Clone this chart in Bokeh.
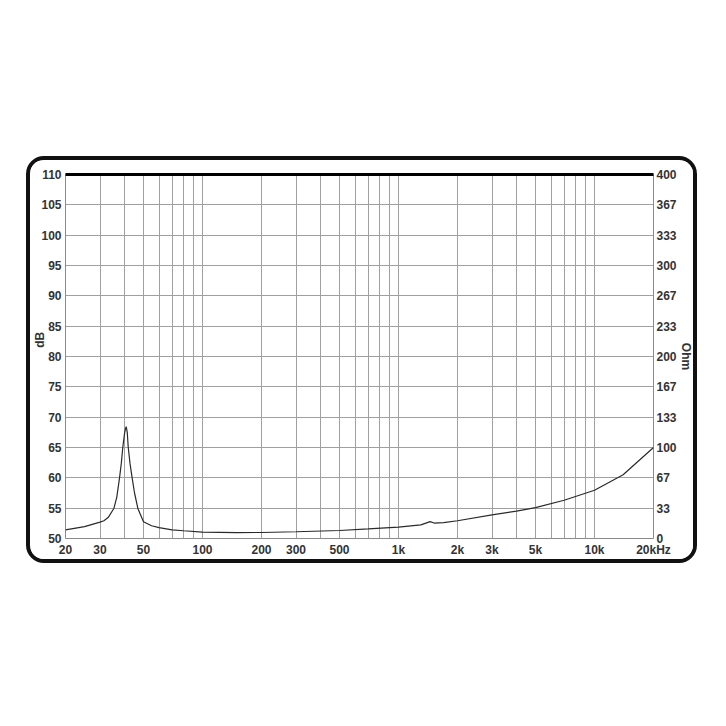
from bokeh.plotting import figure
from bokeh.models import Range1d, LinearAxis, LogAxis, FixedTicker
from bokeh.embed import file_html
from bokeh.resources import INLINE

# ---- data ----
freq_hz = [20, 25, 30, 31.4, 33, 35.3, 36.5, 37.7, 38.5, 39.2, 40.0, 40.4, 40.8,
           41.3, 41.8, 42.7, 43.8, 45, 46.8, 50, 55, 60, 70, 80, 100, 150, 200,
           300, 500, 700, 1000, 1300, 1450, 1520, 1700, 2000, 3000, 4000, 5000,
           7000, 10000, 14000, 20000]
impedance_ohm = [9.5, 13, 18, 19.5, 23, 33, 45, 66, 82, 100, 115, 120, 123,
                 117, 100, 82, 66, 50, 33, 18.5, 14, 12, 9.5, 8.5, 7, 6.5, 6.6,
                 7.4, 8.8, 10.5, 12.5, 15, 18.5, 17.0, 17.5, 19.5, 26, 30, 34,
                 42, 53, 70, 100]

db_ticks = [50, 55, 60, 65, 70, 75, 80, 85, 90, 95, 100, 105, 110]
ohm_labels = ["0", "33", "67", "100", "133", "167", "200", "233", "267",
              "300", "333", "367", "400"]
freq_label_values = [20, 30, 50, 100, 200, 300, 500, 1000, 2000, 3000, 5000,
                     10000, 20000]
freq_labels = ["20", "30", "50", "100", "200", "300", "500", "1k", "2k", "3k",
               "5k", "10k", "20kHz"]
grid_freqs = [20, 30, 40, 50, 60, 70, 80, 90, 100, 200, 300, 400, 500, 600,
              700, 800, 900, 1000, 2000, 3000, 4000, 5000, 6000, 7000, 8000,
              9000, 10000, 20000]

FONT = "Liberation Sans"
LABEL_COLOR = "#333333"
GRID_COLOR = "#a0a0a0"

p = figure(width=671, height=407, x_axis_type="log",
           x_range=Range1d(20, 20000), y_range=Range1d(50, 110),
           output_backend="svg", toolbar_location=None,
           min_border_left=35, min_border_right=48,
           min_border_top=14, min_border_bottom=29,
           background_fill_color="white", border_fill_color="white")
p.margin = (156, 0, 0, 26)
p.styles = {"border": "4px solid #111111", "border-radius": "18px",
            "overflow": "hidden"}
p.extra_y_ranges = {"ohm": Range1d(0, 400)}

p.outline_line_color = "#8a8a8a"
p.outline_line_width = 1

# grids
p.xgrid.ticker = FixedTicker(ticks=grid_freqs)
p.ygrid.ticker = FixedTicker(ticks=db_ticks)
for g in (p.xgrid, p.ygrid):
    g.grid_line_color = GRID_COLOR
    g.grid_line_width = 1


def style_axis(ax, standoff, font=FONT, size="12px"):
    ax.axis_line_color = None
    ax.major_tick_line_color = None
    ax.minor_tick_line_color = None
    ax.major_tick_out = 0
    ax.major_tick_in = 0
    ax.minor_tick_out = 0
    ax.minor_tick_in = 0
    ax.major_label_standoff = standoff
    ax.major_label_text_font = font
    ax.major_label_text_font_style = "bold"
    ax.major_label_text_font_size = size
    ax.major_label_text_color = LABEL_COLOR
    ax.axis_label_text_font = FONT
    ax.axis_label_text_font_style = "bold"
    ax.axis_label_text_font_size = "12px"
    ax.axis_label_text_color = LABEL_COLOR


# left axis (dB)
ya = p.yaxis[0]
ya.ticker = FixedTicker(ticks=db_ticks)
style_axis(ya, 4)
ya.axis_label = "\u00a0" * 10 + "dB"
ya.axis_label_standoff = -9

# right axis (Ohm) aligned to the dB grid
ra = LinearAxis(ticker=FixedTicker(ticks=db_ticks),
                major_label_overrides=dict(zip(db_ticks, ohm_labels)))
style_axis(ra, 3)
ra.axis_label = "Ohm"
ra.axis_label_standoff = -1
p.add_layout(ra, "right")

# bottom axis (frequency)
xa = p.xaxis[0]
xa.ticker = FixedTicker(ticks=freq_label_values)
xa.major_label_overrides = dict(zip(freq_label_values, freq_labels))
style_axis(xa, 4, font=FONT, size="12px")

# thick top edge
ta = LogAxis(ticker=FixedTicker(ticks=[]))
ta.axis_line_color = "black"
ta.axis_line_width = 3
ta.major_tick_line_color = None
ta.minor_tick_line_color = None
ta.major_tick_out = 0
ta.major_tick_in = 0
ta.major_label_text_font_size = "0px"
ta.major_label_standoff = 0
p.add_layout(ta, "above")

# impedance curve
p.line(freq_hz, impedance_ohm, y_range_name="ohm", line_color="#2a2a2a",
       line_width=1.2)

open("out.html", "w").write(file_html(p, INLINE))
